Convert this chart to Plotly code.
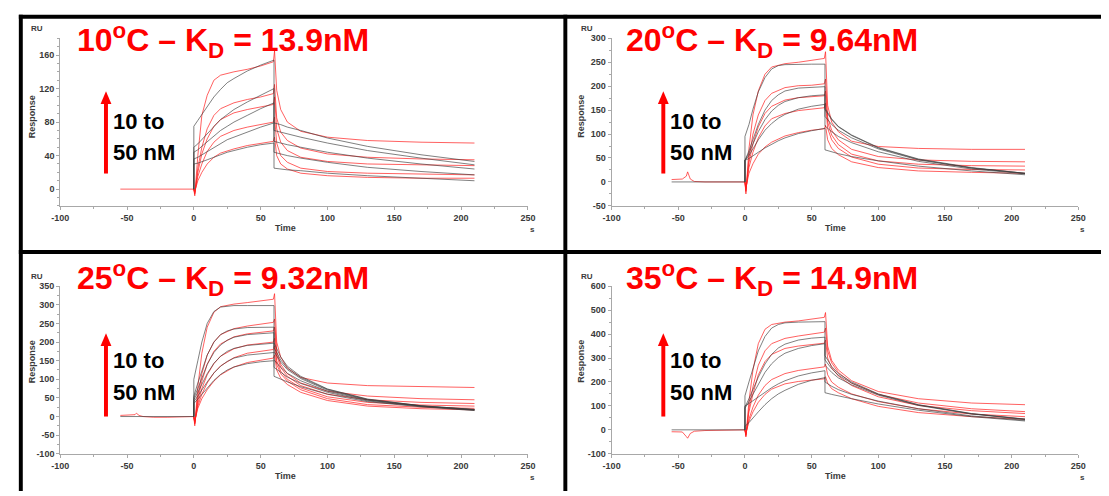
import plotly.graph_objects as go

W, H = 1109, 496

# ---------------- data ----------------
X_TICKS = [-100, -50, 0, 50, 100, 150, 200, 250]

T_BASE = [-55, -47, -44, -43, -41, -38, -30, -20, -10, 0]
T_RED = [0, 0.7, 3, 6, 10, 15, 20, 30, 40, 50, 59.5, 60.4, 62, 65, 70, 80, 100, 130, 170, 210]
T_BLACK = [0, 0, 3, 6, 10, 15, 20, 25, 30, 40, 50, 60, 60, 65, 70, 80, 100, 130, 170, 210]
T_BLACK_BASE = [-55, 0]

# 10 C
BASE_10C = [0, 0, 0, 0, 0, 0, 0, 0, 0, 0]
RED_10C_1 = [0, -8, 40, 88, 112, 130, 136, 140, 143, 147, 152, 165, 118, 95, 80, 69, 62, 58, 56, 55]
RED_10C_2 = [0, -6, 25, 50, 72, 88, 96, 103, 107, 110, 114, 125, 85, 68, 58, 49, 42, 38, 36, 35]
RED_10C_3 = [0, -5, 20, 42, 60, 75, 83, 91, 95, 98, 101, 110, 72, 56, 46, 38, 33, 30, 29, 28]
RED_10C_4 = [0, -4, 15, 30, 45, 56, 63, 70, 74, 77, 80, 86, 55, 40, 32, 25, 21, 19, 18, 17]
RED_10C_5 = [0, -3, 10, 20, 30, 38, 43, 48, 52, 55, 57, 62, 40, 30, 24, 19, 16, 14, 13, 13]
FIT_10C_1 = [0, 75, 82, 89, 99, 110, 119, 127, 132, 141, 148, 154, 79, 77, 74, 70, 61, 51, 41, 33]
FIT_10C_2 = [0, 50, 54, 59, 66, 75, 83, 89, 95, 104, 112, 120, 70, 68, 66, 62, 55, 46, 37, 29]
FIT_10C_3 = [0, 44, 47, 51, 56, 63, 70, 75, 80, 88, 96, 103, 57, 55, 53, 50, 44, 37, 30, 24]
FIT_10C_4 = [0, 36, 38, 41, 45, 50, 55, 59, 62, 68, 74, 79, 44, 42, 40, 37, 32, 26, 21, 17]
FIT_10C_5 = [0, 30, 31, 33, 35, 38, 41, 44, 46, 50, 53, 55, 25, 24, 23, 22, 19, 16, 13, 10]

# 20 C
BASE_20C = [5, 6, 12, 21, 6, 1, 0, 0, 0, 0]
RED_20C_1 = [0, -25, 70, 140, 190, 225, 240, 247, 250, 254, 258, 272, 160, 125, 105, 85, 74, 70, 68, 68]
RED_20C_2 = [0, -20, 50, 100, 140, 170, 185, 197, 201, 202, 205, 215, 135, 108, 88, 68, 53, 46, 43, 42]
RED_20C_3 = [0, -18, 40, 80, 115, 143, 158, 171, 176, 178, 180, 190, 125, 98, 78, 58, 44, 37, 34, 33]
RED_20C_4 = [0, -15, 30, 62, 92, 117, 132, 143, 149, 152, 155, 165, 112, 88, 70, 52, 37, 29, 26, 25]
RED_20C_5 = [0, -12, 18, 38, 58, 73, 83, 96, 103, 108, 111, 118, 88, 70, 57, 42, 30, 23, 20, 18]
FIT_20C_1 = [0, 95, 120, 152, 188, 218, 236, 243, 245, 246, 246, 246, 151, 130, 115, 97, 71, 47, 29, 18]
FIT_20C_2 = [0, 45, 65, 90, 120, 150, 170, 182, 190, 196, 198, 199, 154, 132, 116, 98, 72, 48, 30, 18]
FIT_20C_3 = [0, 45, 60, 80, 105, 130, 148, 160, 168, 176, 180, 182, 137, 120, 108, 92, 69, 46, 29, 18]
FIT_20C_4 = [0, 45, 55, 70, 88, 108, 122, 133, 141, 152, 158, 162, 117, 105, 95, 82, 63, 43, 27, 17]
FIT_20C_5 = [0, 45, 49, 55, 62, 71, 79, 86, 92, 101, 107, 112, 67, 63, 59, 53, 44, 33, 23, 15]

# 25 C
BASE_25C = [3, 3, 5, 9, 3, 0, -2, -2, -1, 0]
RED_25C_1 = [0, -25, 80, 170, 240, 280, 295, 302, 306, 310, 315, 330, 200, 160, 130, 105, 90, 83, 80, 78]
RED_25C_2 = [0, -20, 55, 115, 165, 200, 220, 236, 243, 248, 253, 262, 175, 140, 115, 90, 68, 55, 48, 45]
RED_25C_3 = [0, -18, 45, 95, 140, 175, 195, 214, 222, 226, 230, 240, 165, 132, 108, 83, 60, 45, 38, 35]
RED_25C_4 = [0, -16, 35, 75, 112, 142, 162, 182, 192, 197, 200, 210, 150, 122, 100, 77, 53, 38, 31, 28]
RED_25C_5 = [0, -14, 28, 60, 90, 117, 136, 158, 170, 176, 180, 190, 140, 115, 95, 72, 48, 32, 25, 22]
RED_25C_6 = [0, -12, 22, 48, 72, 95, 112, 133, 145, 152, 157, 165, 125, 103, 86, 65, 43, 28, 21, 18]
FIT_25C_1 = [0, 100, 150, 200, 250, 282, 294, 297, 298, 298, 298, 298, 198, 160, 135, 108, 74, 47, 29, 19]
FIT_25C_2 = [0, 55, 90, 125, 165, 200, 220, 230, 235, 239, 240, 240, 185, 152, 130, 105, 73, 46, 29, 19]
FIT_25C_3 = [0, 50, 75, 105, 140, 172, 192, 205, 213, 220, 223, 225, 175, 146, 126, 102, 71, 45, 28, 18]
FIT_25C_4 = [0, 45, 65, 88, 115, 143, 162, 175, 183, 191, 195, 197, 152, 132, 116, 96, 68, 44, 28, 18]
FIT_25C_5 = [0, 40, 55, 72, 93, 117, 135, 148, 157, 165, 169, 172, 132, 118, 106, 89, 65, 42, 27, 17]
FIT_25C_6 = [0, 35, 47, 60, 77, 97, 113, 125, 133, 142, 147, 150, 108, 100, 93, 80, 60, 40, 26, 16]

# 35 C
BASE_35C = [-8, -9, -28, -35, -15, -6, -3, -1, 0, 0]
RED_35C_1 = [0, -30, 120, 250, 360, 420, 440, 450, 455, 462, 470, 490, 350, 290, 250, 205, 160, 130, 112, 105]
RED_35C_2 = [0, -25, 90, 180, 270, 330, 360, 382, 392, 400, 408, 425, 330, 280, 240, 195, 148, 112, 88, 76]
RED_35C_3 = [0, -22, 75, 150, 230, 285, 315, 340, 350, 356, 362, 375, 300, 260, 225, 185, 138, 102, 80, 68]
RED_35C_4 = [0, -18, 45, 95, 145, 185, 210, 235, 248, 256, 263, 275, 230, 200, 178, 150, 118, 88, 66, 55]
RED_35C_5 = [0, -15, 35, 75, 115, 148, 170, 192, 202, 208, 213, 222, 195, 172, 155, 130, 98, 72, 55, 44]
FIT_35C_1 = [0, 142, 200, 260, 330, 390, 425, 440, 447, 450, 451, 452, 310, 265, 235, 200, 150, 105, 68, 45]
FIT_35C_2 = [0, 95, 130, 170, 220, 275, 315, 342, 358, 375, 383, 387, 292, 255, 228, 195, 148, 104, 67, 44]
FIT_35C_3 = [0, 90, 118, 150, 192, 240, 276, 302, 320, 340, 352, 360, 270, 240, 217, 188, 145, 102, 66, 44]
FIT_35C_4 = [0, 100, 110, 122, 138, 158, 176, 192, 205, 225, 238, 247, 155, 148, 141, 130, 108, 82, 55, 37]
FIT_35C_5 = [0, 15, 30, 50, 75, 105, 130, 150, 165, 190, 207, 218, 200, 182, 168, 148, 120, 88, 58, 40]

TITLES = ["10<sup>o</sup>C – K<sub>D</sub> = 13.9nM",
          "20<sup>o</sup>C – K<sub>D</sub> = 9.64nM",
          "25<sup>o</sup>C – K<sub>D</sub> = 9.32nM",
          "35<sup>o</sup>C – K<sub>D</sub> = 14.9nM"]
Y_TICKS = [[0, 40, 80, 120, 160],
           [-50, 0, 50, 100, 150, 200, 250, 300],
           [-100, -50, 0, 50, 100, 150, 200, 250, 300, 350],
           [-100, 0, 100, 200, 300, 400, 500, 600]]
Y_RANGES = [[-20, 180], [-50, 300], [-100, 350], [-100, 600]]
Y_MINOR = [10, 25, 25, 50]

PANEL_DATA = [
    dict(base=BASE_10C, red=[RED_10C_1, RED_10C_2, RED_10C_3, RED_10C_4, RED_10C_5],
         fit=[FIT_10C_1, FIT_10C_2, FIT_10C_3, FIT_10C_4, FIT_10C_5], fit_base=False),
    dict(base=BASE_20C, red=[RED_20C_1, RED_20C_2, RED_20C_3, RED_20C_4, RED_20C_5],
         fit=[FIT_20C_1, FIT_20C_2, FIT_20C_3, FIT_20C_4, FIT_20C_5], fit_base=True),
    dict(base=BASE_25C, red=[RED_25C_1, RED_25C_2, RED_25C_3, RED_25C_4, RED_25C_5, RED_25C_6],
         fit=[FIT_25C_1, FIT_25C_2, FIT_25C_3, FIT_25C_4, FIT_25C_5, FIT_25C_6], fit_base=True),
    dict(base=BASE_35C, red=[RED_35C_1, RED_35C_2, RED_35C_3, RED_35C_4, RED_35C_5],
         fit=[FIT_35C_1, FIT_35C_2, FIT_35C_3, FIT_35C_4, FIT_35C_5], fit_base=True),
]

# ---------------- layout helpers ----------------
def px(x):
    return x / W

def py(y):
    return 1 - y / H

X_DOM = [(52, 527), (612, 1086)]
Y_DOM = [(34, 205), (287, 458)]
FONT = "Liberation Sans, Arial, sans-serif"
RED = "rgba(255,30,30,0.7)"
FITC = "rgba(60,60,60,0.65)"
AXC = "#a8a8a8"

fig = go.Figure()
layout = dict(width=W, height=H, autosize=False, margin=dict(l=0, r=0, t=0, b=0),
              paper_bgcolor="white", plot_bgcolor="white", showlegend=False)

shapes = []
annotations = []

for i, p in enumerate(PANEL_DATA):
    n = i + 1
    col, row = i % 2, i // 2
    xs = "x" if n == 1 else f"x{n}"
    ys = "y" if n == 1 else f"y{n}"
    fig.add_trace(go.Scatter(x=T_BASE, y=p["base"], mode="lines", xaxis=xs, yaxis=ys,
                             line=dict(color=RED, width=1), hoverinfo="skip"))
    for r in p["red"]:
        fig.add_trace(go.Scatter(x=T_RED, y=r, mode="lines", xaxis=xs, yaxis=ys,
                                 line=dict(color=RED, width=1), hoverinfo="skip"))
    if p["fit_base"]:
        fig.add_trace(go.Scatter(x=T_BLACK_BASE, y=[0, 0], mode="lines", xaxis=xs, yaxis=ys,
                                 line=dict(color=FITC, width=1), hoverinfo="skip"))
    for f in p["fit"]:
        fig.add_trace(go.Scatter(x=T_BLACK, y=f, mode="lines", xaxis=xs, yaxis=ys,
                                 line=dict(color=FITC, width=1), hoverinfo="skip"))

    x0, x1 = X_DOM[col]
    y0, y1 = Y_DOM[row]
    xkey = "xaxis" if n == 1 else f"xaxis{n}"
    ykey = "yaxis" if n == 1 else f"yaxis{n}"
    tickfont = dict(family=FONT, size=9, color="#3a3a3a", weight="bold")
    layout[xkey] = dict(domain=[px(x0), px(x1)], range=[-100, 250], anchor=ys,
                        showline=True, linecolor=AXC, linewidth=1, showgrid=False, zeroline=False,
                        ticks="outside", ticklen=3, tickcolor=AXC,
                        tickvals=X_TICKS, ticktext=[str(v) for v in X_TICKS], tickfont=tickfont,
                        minor=dict(dtick=25, tick0=0, ticks="outside", ticklen=2, tickcolor=AXC, showgrid=False))
    layout[ykey] = dict(domain=[py(y1), py(y0)], range=Y_RANGES[i], anchor=xs,
                        showline=True, linecolor=AXC, linewidth=1, showgrid=False, zeroline=False,
                        ticks="outside", ticklen=3, tickcolor=AXC,
                        tickvals=Y_TICKS[i], ticktext=[str(v) for v in Y_TICKS[i]], tickfont=tickfont,
                        minor=dict(dtick=Y_MINOR[i], tick0=0, ticks="outside", ticklen=2, tickcolor=AXC, showgrid=False))

    dx = 0 if col == 0 else 558
    dy = 0 if row == 0 else 253
    # title
    annotations.append(dict(x=px(67 + dx), y=py(36 + dy - (0 if row == 0 else 10)), xref="paper", yref="paper",
                            text="<b>" + TITLES[i] + "</b>", showarrow=False, xanchor="left", yanchor="middle",
                            font=dict(family=FONT, size=32, color="#ff0000")))
    # concentration text
    ax_x = 98.5 + (dx if col == 0 else 566)
    annotations.append(dict(x=px(ax_x + 5), y=py(119 + dy - (0 if row == 0 else 9)), xref="paper", yref="paper",
                            text="<b>10 to</b>", showarrow=False, xanchor="left", yanchor="middle",
                            font=dict(family=FONT, size=22, color="#000000")))
    annotations.append(dict(x=px(ax_x + 5), y=py(151 + dy - (0 if row == 0 else 9)), xref="paper", yref="paper",
                            text="<b>50 nM</b>", showarrow=False, xanchor="left", yanchor="middle",
                            font=dict(family=FONT, size=22, color="#000000")))
    # arrow
    tip = 88 + dy - (0 if row == 0 else 6)
    bot = 172 + dy - (0 if row == 0 else 5)
    shapes.append(dict(type="rect", xref="paper", yref="paper", x0=px(ax_x - 2), x1=px(ax_x + 2),
                       y0=py(bot), y1=py(tip + 11), fillcolor="#ff0000", line=dict(width=0)))
    shapes.append(dict(type="path", xref="paper", yref="paper",
                       path=f"M {px(ax_x - 5.5)} {py(tip + 13)} L {px(ax_x + 5.5)} {py(tip + 13)} L {px(ax_x)} {py(tip)} Z",
                       fillcolor="#ff0000", line=dict(width=0)))
    # axis labels
    lab = dict(family=FONT, size=8, color="#3a3a3a", weight="bold")
    annotations.append(dict(x=px(28.5 + dx), y=py(24 + dy), xref="paper", yref="paper", text="RU",
                            showarrow=False, xanchor="center", yanchor="middle", font=lab))
    annotations.append(dict(x=px(23 + dx), y=py(114 + dy - (0 if row == 0 else 3)), xref="paper", yref="paper",
                            text="Response", textangle=-90,
                            showarrow=False, xanchor="center", yanchor="middle", font=dict(lab, size=9)))
    annotations.append(dict(x=px(281 + dx), y=py(227.5 + dy), xref="paper", yref="paper", text="Time",
                            showarrow=False, xanchor="center", yanchor="middle", font=dict(lab, size=9)))
    annotations.append(dict(x=px(532 + dx), y=py(229 + dy), xref="paper", yref="paper", text="s",
                            showarrow=False, xanchor="center", yanchor="middle", font=lab))

# thick black frame lines
for (a, b, c, d) in [(10, 1109, 10, 14), (10, 14, 10, 496), (563, 567, 10, 496), (10, 1109, 250, 254)]:
    shapes.append(dict(type="rect", xref="paper", yref="paper", x0=px(a), x1=px(b), y0=py(d), y1=py(c),
                       fillcolor="#000000", line=dict(width=0), layer="above"))

layout["shapes"] = shapes
layout["annotations"] = annotations
fig.update_layout(**layout)
fig.write_html("out.html",
               post_script="document.body.style.margin='0px';document.body.style.padding='0px';")
